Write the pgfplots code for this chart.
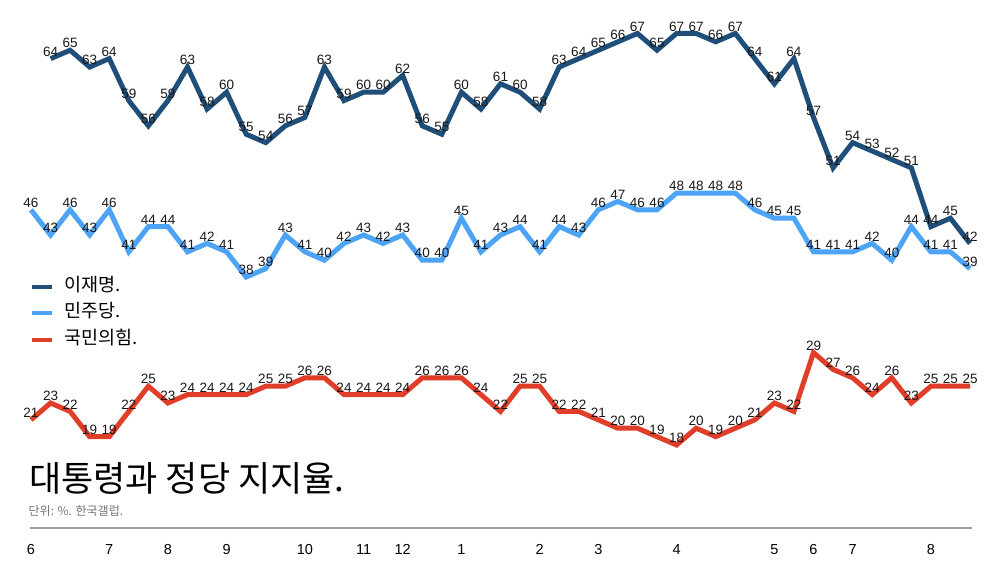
\documentclass[border=0pt]{standalone}
\usepackage{fontspec}
\setmainfont{Liberation Sans}
\newfontfamily\kr{Noto Sans CJK KR}
\usepackage{pgfplots}
\pgfplotsset{compat=1.18}
\definecolor{cDark}{RGB}{31,78,121}
\definecolor{cBlue}{RGB}{77,163,245}
\definecolor{cRed}{RGB}{224,62,40}
\definecolor{cRule}{RGB}{160,160,160}
\begin{document}
\begin{tikzpicture}
\useasboundingbox (0,0) rectangle (1000pt,563pt);
\begin{axis}[
  at={(31pt,35pt)}, anchor=south west,
  scale only axis, width=939pt, height=528pt,
  xmin=0, xmax=48, ymin=8.12, ymax=70.98,
  clip=false,
  axis x line=bottom, axis y line=none,
  x axis line style={-, draw=cRule, line width=1.2pt, shorten <=-1pt, shorten >=-2pt},
  xtick={0,4,7,10,14,17,19,22,26,29,33,38,40,42,46},
  xticklabels={6,7,8,9,10,11,12,1,2,3,4,5,6,7,8},
  xtick style={draw=none}, major tick length=0pt,
  xticklabel style={anchor=base, inner sep=0pt, yshift=-26pt, font=\fontsize{14.5}{16}\selectfont},
  ytick=\empty,
  /pgf/number format/assume math mode=true,
  nodes near coords,
  nodes near coords style={anchor=center, yshift=7pt, font=\fontsize{13.5}{15}\selectfont, text=black!90},
  every axis plot/.append style={line width=5pt, line join=miter},
  legend style={at={(axis description cs:-0.001,0.4725)}, anchor=north west,
    draw=none, fill=none, inner sep=0pt, outer sep=0pt, row sep=9.4pt, column sep=10pt,
    font=\kr\fontsize{18.5}{21}\selectfont,
    nodes={inner sep=0pt, text height=13pt, text depth=4pt}},
  legend cell align=left,
  legend image code/.code={\draw[#1, line width=4pt] (0pt,0pt) -- (20pt,0pt);},
]
\addplot[cDark] coordinates {
(1,64) (2,65) (3,63) (4,64) (5,59) (6,56) (7,59) (8,63) (9,58) (10,60)
(11,55) (12,54) (13,56) (14,57) (15,63) (16,59) (17,60) (18,60) (19,62) (20,56)
(21,55) (22,60) (23,58) (24,61) (25,60) (26,58) (27,63) (28,64) (29,65) (30,66)
(31,67) (32,65) (33,67) (34,67) (35,66) (36,67) (37,64) (38,61) (39,64) (40,57)
(41,51) (42,54) (43,53) (44,52) (45,51) (46,44) (47,45) (48,42)};
\addlegendentry{이재명.}
\addplot[cBlue] coordinates {
(0,46) (1,43) (2,46) (3,43) (4,46) (5,41) (6,44) (7,44) (8,41) (9,42)
(10,41) (11,38) (12,39) (13,43) (14,41) (15,40) (16,42) (17,43) (18,42) (19,43)
(20,40) (21,40) (22,45) (23,41) (24,43) (25,44) (26,41) (27,44) (28,43) (29,46)
(30,47) (31,46) (32,46) (33,48) (34,48) (35,48) (36,48) (37,46) (38,45) (39,45)
(40,41) (41,41) (42,41) (43,42) (44,40) (45,44) (46,41) (47,41) (48,39)};
\addlegendentry{민주당.}
\addplot[cRed] coordinates {
(0,21) (1,23) (2,22) (3,19) (4,19) (5,22) (6,25) (7,23) (8,24) (9,24)
(10,24) (11,24) (12,25) (13,25) (14,26) (15,26) (16,24) (17,24) (18,24) (19,24)
(20,26) (21,26) (22,26) (23,24) (24,22) (25,25) (26,25) (27,22) (28,22) (29,21)
(30,20) (31,20) (32,19) (33,18) (34,20) (35,19) (36,20) (37,21) (38,23) (39,22)
(40,29) (41,27) (42,26) (43,24) (44,26) (45,23) (46,25) (47,25) (48,25)};
\addlegendentry{국민의힘.}
\end{axis}
\node[anchor=base west, inner sep=0pt, font=\kr\fontsize{35}{41}\selectfont] at (29pt,72pt) {대통령과 정당 지지율.};
\node[anchor=base west, inner sep=0pt, font=\kr\fontsize{12}{14}\selectfont, text=black!55] at (28.5pt,47.5pt) {단위: \%. 한국갤럽.};
\end{tikzpicture}
\end{document}
